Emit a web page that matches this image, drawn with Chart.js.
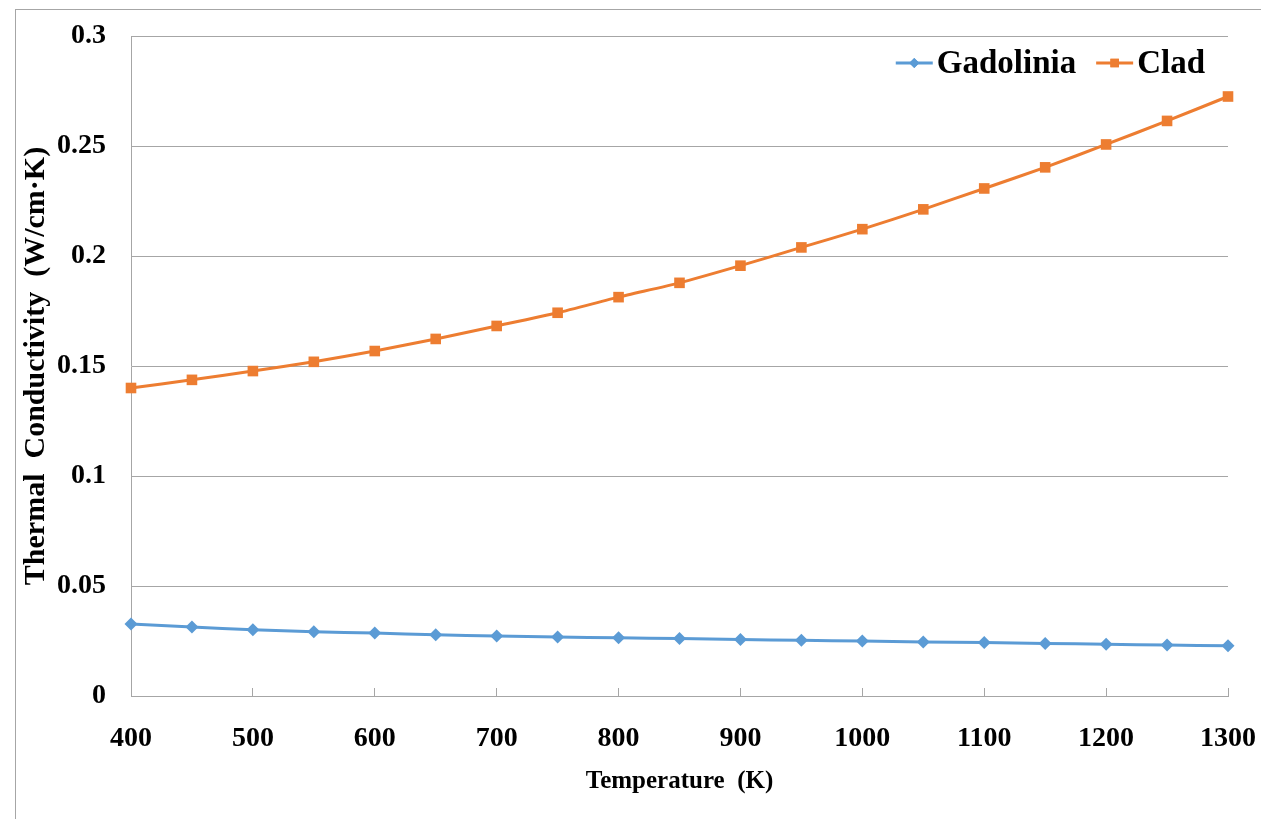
<!DOCTYPE html>
<html>
<head>
<meta charset="utf-8">
<script src="https://cdn.jsdelivr.net/npm/chart.js@4.4.1/dist/chart.umd.min.js"></script>
<style>
  html, body { margin: 0; padding: 0; background: #ffffff; }
  #wrap { position: relative; width: 1261px; height: 819px; overflow: hidden; }
  #frame { position: absolute; left: 15px; top: 9px; right: -5px; bottom: -5px; border-top: 1px solid #a6a6a6; border-left: 1px solid #a6a6a6; pointer-events: none; }
  canvas { position: absolute; left: 0; top: 0; }
</style>
</head>
<body>
<div id="wrap">
  <canvas id="c" width="1261" height="819"></canvas>
  <div id="frame"></div>
</div>
<script>
// ---- data ----
const temperatures = [400, 450, 500, 550, 600, 650, 700, 750, 800, 850, 900, 950, 1000, 1050, 1100, 1150, 1200, 1250, 1300];
const gadolinia = [0.0327, 0.0314, 0.0301, 0.0292, 0.0286, 0.0278, 0.0273, 0.0268, 0.0265, 0.0261, 0.0257, 0.0253, 0.0250, 0.0246, 0.0243, 0.0239, 0.0235, 0.0232, 0.0228];
const clad = [0.1400, 0.1437, 0.1477, 0.1519, 0.1568, 0.1623, 0.1682, 0.1742, 0.1813, 0.1878, 0.1956, 0.2039, 0.2122, 0.2212, 0.2307, 0.2403, 0.2507, 0.2614, 0.2725];
const seriesNames = ['Gadolinia', 'Clad'];
const xTickLabels = ['400', '500', '600', '700', '800', '900', '1000', '1100', '1200', '1300'];
const yTickLabels = ['0', '0.05', '0.1', '0.15', '0.2', '0.25', '0.3'];
const xTitle = 'Temperature  (K)';
const yTitle = 'Thermal  Conductivity  (W/cm\u00B7K)';

const FONT = '"Liberation Serif", "Times New Roman", serif';
const GRID = '#a6a6a6';
const BLUE = '#5b9bd5';
const ORANGE = '#ed7d31';

const legendPlugin = {
  id: 'lineLegend',
  afterDraw(chart) {
    const ctx = chart.ctx;
    const ca = chart.chartArea;
    ctx.save();
    ctx.font = 'bold 33px ' + FONT;
    ctx.textBaseline = 'middle';
    ctx.textAlign = 'left';
    const y = ca.top + 27;
    let x = ca.right - 23;
    const ds = chart.data.datasets;
    for (let i = ds.length - 1; i >= 0; i--) {
      const d = ds[i];
      const w = ctx.measureText(d.label).width;
      x -= w;
      ctx.fillStyle = '#000000';
      ctx.fillText(d.label, x, y + 1);
      const x2 = x - 4, x1 = x2 - 37;
      ctx.strokeStyle = d.borderColor;
      ctx.lineWidth = 3;
      ctx.beginPath(); ctx.moveTo(x1, y); ctx.lineTo(x2, y); ctx.stroke();
      ctx.fillStyle = d.backgroundColor;
      Chart.helpers.drawPoint(ctx, { pointStyle: d.pointStyle, radius: d.legendRadius, rotation: 0, borderWidth: 0 }, (x1 + x2) / 2, y);
      ctx.fill();
      x = x1 - 20;
    }
    ctx.restore();
  }
};

const toPoints = arr => temperatures.map((t, i) => ({ x: t, y: arr[i] }));

new Chart(document.getElementById('c'), {
  type: 'line',
  data: {
    datasets: [
      { label: seriesNames[0], data: toPoints(gadolinia), borderColor: BLUE, backgroundColor: BLUE,
        borderWidth: 3, pointStyle: 'rectRot', pointRadius: 6.5, pointBorderWidth: 0, legendRadius: 5,
        tension: 0.2, clip: false },
      { label: seriesNames[1], data: toPoints(clad), borderColor: ORANGE, backgroundColor: ORANGE,
        borderWidth: 3, pointStyle: 'rect', pointRadius: 7.5, pointBorderWidth: 0, legendRadius: 6,
        tension: 0.2, clip: false }
    ]
  },
  options: {
    responsive: false,
    animation: false,
    devicePixelRatio: 1,
    layout: { padding: { left: 18, right: 33, top: 36, bottom: 0 } },
    plugins: { legend: { display: false }, tooltip: { enabled: false } },
    scales: {
      x: {
        type: 'linear', min: 400, max: 1300,
        afterFit: s => { s.height = 123; s.paddingLeft = 0; s.paddingRight = 0; },
        ticks: { stepSize: 100, padding: 34, color: '#000', maxRotation: 0,
          font: { family: FONT, size: 28, weight: 'bold' },
          callback: (v, i) => xTickLabels[i] },
        grid: { display: true, drawOnChartArea: false, drawTicks: true, tickLength: -8, color: GRID, lineWidth: 1 },
        border: { display: true, color: GRID, width: 1 },
        title: { display: true, text: xTitle, color: '#000', padding: { top: 0, bottom: 22 },
          font: { family: FONT, size: 25, weight: 'bold' } }
      },
      y: {
        min: 0, max: 0.3,
        afterFit: s => { s.width = 113; s.paddingTop = 0; s.paddingBottom = 0; },
        ticks: { stepSize: 0.05, padding: 25, color: '#000',
          font: { family: FONT, size: 28, weight: 'bold' },
          callback: (v, i) => yTickLabels[i] },
        grid: { color: GRID, lineWidth: 1, drawTicks: false },
        border: { display: true, color: GRID, width: 1 },
        title: { display: true, text: yTitle, color: '#000', padding: { top: 0, bottom: 0 },
          font: { family: FONT, size: 30, weight: 'bold' } }
      }
    }
  },
  plugins: [legendPlugin]
});
</script>
</body>
</html>
